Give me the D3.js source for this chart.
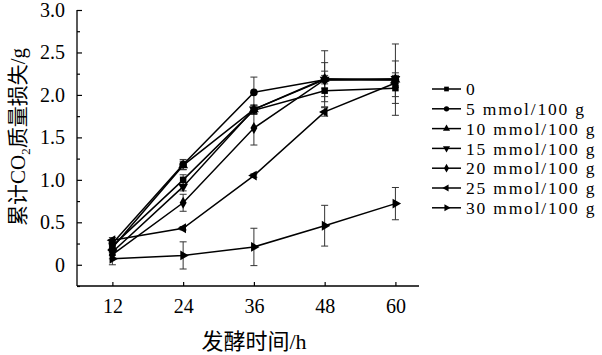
<!DOCTYPE html>
<html>
<head>
<meta charset="utf-8">
<script src="https://cdn.jsdelivr.net/npm/d3@7/dist/d3.min.js"></script>
<style>
html,body{margin:0;padding:0;background:#fff;}
svg{display:block;}
</style>
</head>
<body>
<div id="chart"></div>
<script>
const hours = [12, 24, 36, 48, 60];
const seriesNames = ["0", "5 mmol/100 g", "10 mmol/100 g", "15 mmol/100 g", "20 mmol/100 g", "25 mmol/100 g", "30 mmol/100 g"];
const s0  = [0.22, 1.00, 1.82, 2.05, 2.08];
const s5  = [0.25, 1.18, 2.03, 2.18, 2.18];
const s10 = [0.20, 1.17, 1.83, 2.19, 2.18];
const s15 = [0.15, 0.92, 1.83, 2.18, 2.19];
const s20 = [0.12, 0.73, 1.61, 2.18, 2.18];
const s25 = [0.29, 0.43, 1.05, 1.80, 2.14];
const s30 = [0.07, 0.11, 0.21, 0.46, 0.72];
const e0  = [0.05, 0.06, 0.05, 0.13, 0.18];
const e5  = [0.04, 0.06, 0.18, 0.05, 0.04];
const e10 = [0.05, 0.05, 0.05, 0.33, 0.42];
const e15 = [0.04, 0.05, 0.05, 0.20, 0.21];
const e20 = [0.05, 0.10, 0.20, 0.10, 0.05];
const e25 = [0.03, 0.02, 0.02, 0.05, 0.05];
const e30 = [0.07, 0.16, 0.22, 0.24, 0.19];
const yTicks = [0, 0.5, 1.0, 1.5, 2.0, 2.5, 3.0];
const yTickLabels = ["0", "0.5", "1.0", "1.5", "2.0", "2.5", "3.0"];

const values = [s0, s5, s10, s15, s20, s25, s30];
const errors = [e0, e5, e10, e15, e20, e25, e30];
const symbols = [
  {t: d3.symbolSquare, r: 0},
  {t: d3.symbolCircle, r: 0},
  {t: d3.symbolTriangle, r: 0},
  {t: d3.symbolTriangle, r: 180},
  {t: d3.symbolDiamond, r: 0},
  {t: d3.symbolTriangle, r: -90},
  {t: d3.symbolTriangle, r: 90}
];

const W = 602, H = 355;
const svg = d3.select("#chart").append("svg").attr("width", W).attr("height", H);
const x = d3.scaleLinear().domain([6, 64]).range([77, 419]);
const y = d3.scaleLinear().domain([-0.25, 3]).range([286, 10]);
const serif = "'Liberation Serif','Times New Roman',serif";
const cjk = "'Noto Sans CJK SC','Liberation Serif',serif";

// axes
const xAxis = d3.axisBottom(x).tickValues(hours).tickSize(-4).tickFormat(d => d).tickPadding(12);
const gx = svg.append("g").attr("transform", `translate(0,${y(-0.25)})`).call(xAxis);
gx.select(".domain").attr("d", `M${x(6)},0H${x(64)}`).attr("stroke", "#000").attr("stroke-width", 1.3);
gx.selectAll(".tick line").attr("stroke", "#000").attr("stroke-width", 1.2);
gx.selectAll(".tick text").attr("font-family", serif).attr("font-size", 20).attr("fill", "#000").attr("dy", "0.75em");

const minor = d3.range(-0.25, 3.01, 0.25).filter(v => Math.abs(v * 2 - Math.round(v * 2)) > 0.01);
const gym = svg.append("g").attr("transform", `translate(${x(6)},0)`)
  .call(d3.axisLeft(y).tickValues(minor).tickSize(-3).tickFormat(""));
gym.select(".domain").remove();
gym.selectAll(".tick line").attr("stroke", "#000").attr("stroke-width", 1.2);

const yAxis = d3.axisLeft(y).tickValues(yTicks).tickSize(-5).tickPadding(12)
  .tickFormat((d, i) => yTickLabels[i]);
const gy = svg.append("g").attr("transform", `translate(${x(6)},0)`).call(yAxis);
gy.select(".domain").attr("d", `M0,${y(3)}V${y(-0.25)}`).attr("stroke", "#000").attr("stroke-width", 1.3);
gy.selectAll(".tick line").attr("stroke", "#000").attr("stroke-width", 1.2);
gy.selectAll(".tick text").attr("font-family", serif).attr("font-size", 20).attr("fill", "#000");

// error bars
const gErr = svg.append("g");
values.forEach((vals, si) => {
  vals.forEach((v, i) => {
    const e = errors[si][i];
    const cx = x(hours[i]);
    const y1 = y(v + e), y2 = y(v - e);
    gErr.append("line").attr("x1", cx).attr("x2", cx).attr("y1", y1).attr("y2", y2)
      .attr("stroke", "#333").attr("stroke-width", 1);
    [y1, y2].forEach(yy => gErr.append("line").attr("x1", cx - 3.5).attr("x2", cx + 3.5)
      .attr("y1", yy).attr("y2", yy).attr("stroke", "#333").attr("stroke-width", 1));
  });
});

// lines
const line = d3.line().x((d, i) => x(hours[i])).y(d => y(d));
values.forEach(vals => {
  svg.append("path").attr("d", line(vals)).attr("fill", "none")
    .attr("stroke", "#000").attr("stroke-width", 1.5);
});

// markers
values.forEach((vals, si) => {
  const sym = d3.symbol().type(symbols[si].t).size(symbols[si].t === d3.symbolCircle ? 45 : 42);
  svg.append("g").selectAll("path").data(vals).join("path")
    .attr("d", sym)
    .attr("transform", (d, i) => `translate(${x(hours[i])},${y(d)}) rotate(${symbols[si].r})`)
    .attr("fill", "#000");
});

// legend
const lg = svg.append("g");
seriesNames.forEach((name, i) => {
  const yy = 89 + i * 19.8;
  lg.append("line").attr("x1", 432).attr("x2", 461).attr("y1", yy).attr("y2", yy)
    .attr("stroke", "#000").attr("stroke-width", 1.5);
  const sym = d3.symbol().type(symbols[i].t).size(22);
  lg.append("path").attr("d", sym).attr("transform", `translate(446.5,${yy}) rotate(${symbols[i].r})`).attr("fill", "#000");
  lg.append("text").attr("x", 466).attr("y", yy).attr("dy", "0.35em")
    .attr("font-family", serif).attr("font-size", 17.5).attr("letter-spacing", 1.8)
    .attr("fill", "#000").text(name);
});

// axis titles
svg.append("text").attr("x", (x(6) + x(64)) / 2 + 6).attr("y", 349).attr("text-anchor", "middle")
  .attr("font-size", 22).attr("fill", "#000")
  .html(`<tspan font-family="${cjk}">发酵时间</tspan><tspan font-family="${serif}">/h</tspan>`);

const yl = svg.append("text").attr("transform", "translate(25,137) rotate(-90)")
  .attr("text-anchor", "middle").attr("font-size", 21).attr("fill", "#000");
yl.append("tspan").attr("font-family", cjk).text("累计");
yl.append("tspan").attr("font-family", serif).text("CO");
yl.append("tspan").attr("font-family", serif).attr("font-size", 13).attr("dy", 5).text("2");
yl.append("tspan").attr("font-family", cjk).attr("dy", -5).text("质量损失");
yl.append("tspan").attr("font-family", serif).text("/g");
</script>
</body>
</html>
